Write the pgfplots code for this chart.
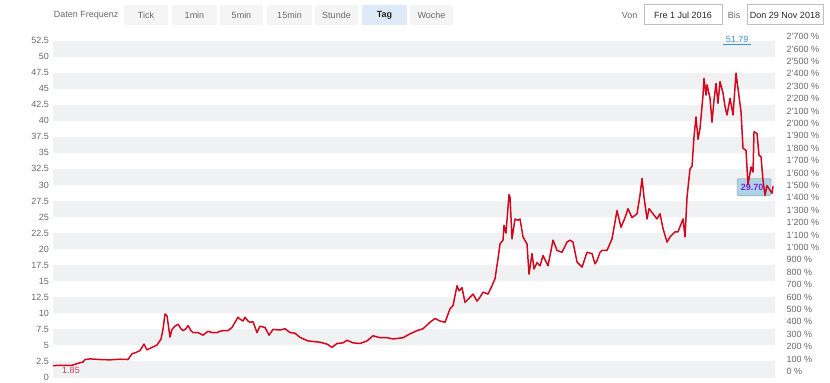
\documentclass[border=0pt]{standalone}
\usepackage{fontspec}
\setmainfont{Liberation Sans}
\usepackage{pgfplots}
\pgfplotsset{compat=1.18}
\definecolor{band}{RGB}{240,241,243}
\definecolor{lineRed}{RGB}{210,8,32}
\definecolor{lbl}{RGB}{105,105,105}
\definecolor{btn}{RGB}{245,245,245}
\definecolor{btnsel}{RGB}{222,234,247}
\definecolor{maxblue}{RGB}{60,150,210}
\definecolor{minred}{RGB}{200,60,90}
\definecolor{boxfill}{RGB}{172,212,232}
\definecolor{boxtxt}{RGB}{120,40,210}
\begin{document}
\begin{tikzpicture}[x=1bp,y=1bp,font=\fontsize{9bp}{10bp}\selectfont]
\useasboundingbox (0,0) rectangle (830,382);
% top bar
\node[anchor=east,text=lbl] at (122,366.5) {Daten Frequenz};
\foreach \a/\b/\t in {124/168/Tick,172/217/1min,220/263/5min,267/312/15min,315/358/Stunde,410/453/Woche}{
  \fill[btn] (\a,357) rectangle (\b,377);
  \node[text=lbl] at ({(\a+\b)/2},366.5) {\t};
}
\fill[btnsel] (362,357) rectangle (407,377);
\node[text=black!85] at (384.5,366.5) {\bfseries Tag};
\node[anchor=east,text=lbl] at (641,366.5) {Von};
\draw[black!25,fill=white] (644,357.5) rectangle (722,377.5);
\node[text=black!85] at (683,366.5) {Fre 1 Jul 2016};
\node[anchor=east,text=lbl] at (744,366.5) {Bis};
\draw[black!25,fill=white] (747,357.5) rectangle (823,377.5);
\node[text=black!85] at (785,366.5) {Don 29 Nov 2018};

\begin{axis}[
  at={(53,7)}, anchor=south west,
  width=722bp, height=337bp, scale only axis,
  xmin=53, xmax=775, ymin=0, ymax=52.5,
  axis line style={draw=none}, major tick style={draw=none},
  xtick=\empty,
  ytick={0,2.5,5,7.5,10,12.5,15,17.5,20,22.5,25,27.5,30,32.5,35,37.5,40,42.5,45,47.5,50,52.5},
  yticklabels={0,2.5,5,7.5,10,12.5,15,17.5,20,22.5,25,27.5,30,32.5,35,37.5,40,42.5,45,47.5,50,52.5},
  yticklabel style={text=lbl,font=\fontsize{9bp}{10bp}\selectfont,xshift=-3bp},
  tick label style={inner sep=1bp},
  clip=false,
]
\foreach \k in {0,5,10,15,20,25,30,35,40,45,50}{
  \edef\tmp{\noexpand\fill[band] (axis cs:53,\k) rectangle (axis cs:775,\k+2.5);}\tmp
}
\draw[black!45,fill=boxfill,rounded corners=1.5bp] (axis cs:737,28.3) rectangle (axis cs:771,31.0);
\node[text=boxtxt] at (axis cs:752,29.65) {\bfseries 29.70};
\addplot[lineRed, line width=1.5bp, line join=round] coordinates {
(53,1.85)(60,1.9)(66,1.88)(72,1.9)(76,2.1)(80,2.3)(83,2.4)(85,2.8)(90,2.9)(100,2.8)(110,2.75)(120,2.85)(128,2.8)(132,3.7)(136,3.9)(140,4.2)(144,5.2)(147,4.3)(152,4.7)(157,5.05)(161,6.0)(163,7.5)(165,9.9)(167,9.6)(168,8.5)(170,6.3)(172,7.5)(175,8.0)(178,8.3)(181,7.6)(183,7.3)(186,7.6)(188,8.1)(191,7.3)(193,7.0)(198,7.0)(203,6.6)(208,7.2)(212,7.0)(217,7.0)(220,7.2)(223,7.3)(228,7.3)(232,7.8)(235,8.6)(238,9.4)(240,9.1)(243,8.8)(245,9.4)(248,8.8)(250,8.6)(253,8.7)(257,7.0)(260,8.0)(265,7.8)(269,6.6)(273,7.5)(280,7.4)(285,7.6)(290,7.0)(295,6.9)(300,6.25)(308,5.7)(314,5.6)(320,5.5)(327,5.2)(332,4.7)(337,5.3)(343,5.4)(347,5.8)(353,5.4)(360,5.3)(367,5.7)(373,6.5)(380,6.2)(387,6.2)(393,6.0)(403,6.2)(410,6.8)(417,7.3)(423,7.6)(430,8.6)(435,9.2)(440,8.8)(445,8.6)(450,10.7)(453,11.2)(457,14.3)(459,13.5)(462,14.0)(465,11.7)(470,12.5)(473,13.0)(477,11.9)(480,12.5)(483,13.3)(488,13.0)(492,14.3)(495,15.4)(498,18.5)(500,20.8)(503,21.4)(504,23.7)(506,22.5)(509,28.5)(510,28.1)(512,21.6)(515,24.7)(518,24.5)(520,24.7)(523,21.9)(527,20.8)(529,16.1)(532,19.3)(534,16.9)(537,17.9)(540,17.4)(543,19.0)(548,17.4)(553,21.4)(557,19.8)(562,19.5)(567,21.1)(570,21.4)(573,21.1)(577,18.0)(582,17.2)(587,19.5)(592,19.3)(595,17.7)(597,18.2)(600,19.5)(602,19.8)(607,19.8)(612,21.6)(617,26.0)(621,23.4)(625,24.9)(628,26.3)(632,24.9)(637,25.5)(640,28.4)(642,31.0)(644,28.1)(647,24.7)(649,26.3)(653,25.5)(657,24.7)(660,25.5)(663,23.2)(667,21.1)(670,21.9)(675,22.7)(678,22.7)(683,24.7)(685,21.9)(687,28.1)(690,32.5)(692,32.9)(694,37.5)(696,40.6)(698,37.1)(700,38.8)(703,44.0)(704,46.6)(706,44.0)(707,45.6)(710,43.5)(712,39.8)(714,43.2)(716,45.8)(718,42.7)(720,46.1)(723,44.3)(725,42.2)(727,40.9)(730,43.5)(733,40.9)(736,47.4)(738,45.0)(741,41.4)(743,35.7)(746,35.4)(748,30.0)(751,32.8)(753,32.0)(754,38.3)(757,38.0)(759,34.6)(761,34.4)(763,30.7)(765,28.4)(767,29.9)(769,29.4)(772,28.7)(773,29.8)
};
\node[text=maxblue] (mx) at (axis cs:737,52.7) {51.79};
\draw[maxblue,line width=0.8bp] ([xshift=1bp,yshift=2bp]mx.south west) -- ([xshift=-1bp,yshift=2bp]mx.south east);
\node[text=minred] at (axis cs:71,1.15) {1.85};
\end{axis}

\begin{axis}[
  at={(53,7)}, anchor=south west,
  width=722bp, height=337bp, scale only axis,
  xmin=53, xmax=775, ymin=-15, ymax=2702,
  axis line style={draw=none}, major tick style={draw=none},
  xtick=\empty,
  axis y line*=right,
  ytick={0,100,...,2700},
  yticklabels={0 \%,100 \%,200 \%,300 \%,400 \%,500 \%,600 \%,700 \%,800 \%,900 \%,1'000 \%,1'100 \%,1'200 \%,1'300 \%,1'400 \%,1'500 \%,1'600 \%,1'700 \%,1'800 \%,1'900 \%,2'000 \%,2'100 \%,2'200 \%,2'300 \%,2'400 \%,2'500 \%,2'600 \%,2'700 \%},
  yticklabel style={text=lbl,font=\fontsize{9bp}{10bp}\selectfont,anchor=west,xshift=8bp},
]
\addplot[draw=none] coordinates {(53,0)};
\end{axis}
\end{tikzpicture}
\end{document}
